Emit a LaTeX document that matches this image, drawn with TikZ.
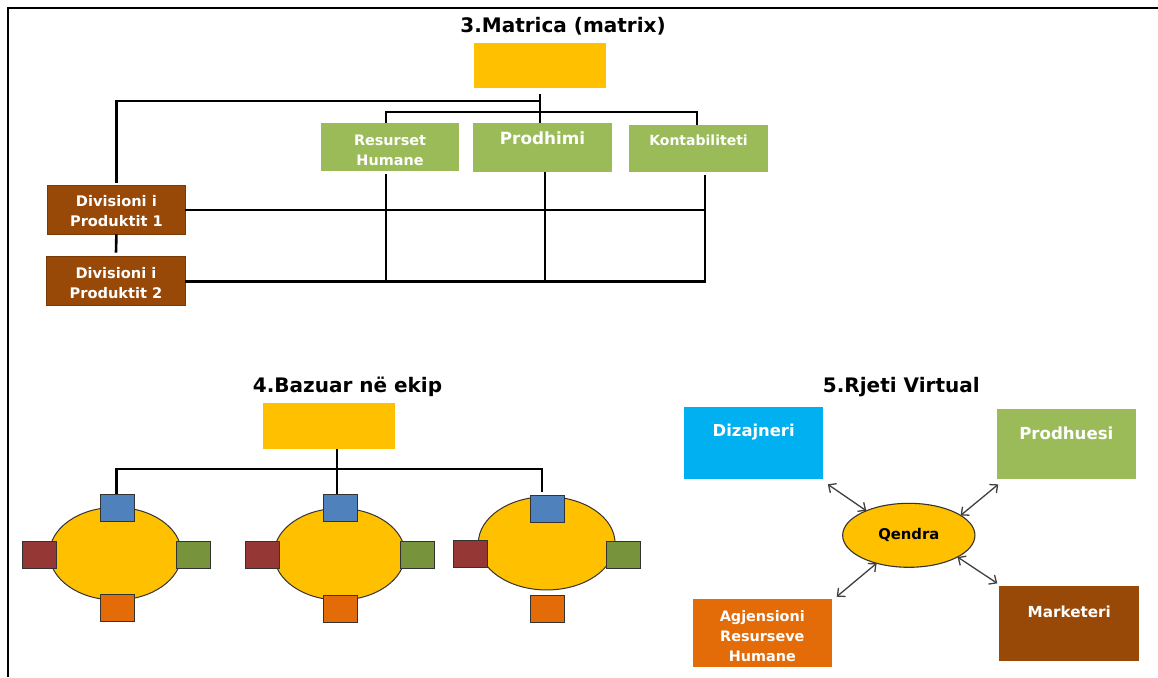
\documentclass[tikz,border=0pt]{standalone}
\usepackage{fontspec}
\setmainfont{DejaVu Sans}
\usetikzlibrary{arrows.meta,shapes.geometric}
\definecolor{gold}{HTML}{FFC000}
\definecolor{mgreen}{HTML}{9BBB59}
\definecolor{mbrown}{HTML}{984807}
\definecolor{sqblue}{HTML}{4F81BD}
\definecolor{sqred}{HTML}{953735}
\definecolor{sqgreen}{HTML}{77933C}
\definecolor{sqorange}{HTML}{E36C09}
\definecolor{skyblue}{HTML}{00B0F0}
\begin{document}
\begin{tikzpicture}[x=1pt,y=-1pt,
  every node/.style={inner sep=0pt, outer sep=0pt},
  rbox/.style={rectangle, draw=none},
  lbl/.style={text=white, align=center, font=\bfseries\fontsize{#1}{20}\selectfont},
  lbl/.default=14.5,
  heading/.style={font=\bfseries\fontsize{20}{24}\selectfont, text=black},
  wire/.style={draw=black, line width=2.6pt},
  sq/.style={rectangle, draw=black!80, line width=1pt, minimum width=34pt, minimum height=27pt},
  team/.style={ellipse, fill=gold, draw=black!80, line width=1pt},
  link/.style={draw=black!75, line width=1.3pt, {Straight Barb[length=6pt,width=11pt]}-{Straight Barb[length=6pt,width=11pt]}}
]
\useasboundingbox (0,0) rectangle (1158,677);
\fill[white] (0,0) rectangle (1158,677);
% outer frame
\draw[line width=1.6pt] (8,677) -- (8,8) -- (1158,8);

% ---------------- 3. Matrix structure ----------------
\node[heading] (t3) at (563,26) {3.Matrica (matrix)};
\node[rbox, fill=gold, minimum width=132pt, minimum height=45pt] (mtop) at (540,65.5) {};
\node[rbox, fill=mgreen, minimum width=138pt, minimum height=48pt] (res) at (390,147) {};
\node[rbox, fill=mgreen, minimum width=139pt, minimum height=49pt] (prod) at (542.5,147.5) {};
\node[rbox, fill=mgreen, minimum width=139pt, minimum height=47.5pt] (kont) at (698.5,148.25) {};
\node[rbox, fill=mbrown, draw=mbrown!80!black, line width=0.6pt, minimum width=138pt, minimum height=48.6pt] (div1) at (116.4,210) {};
\node[rbox, fill=mbrown, draw=mbrown!80!black, line width=0.6pt, minimum width=138.6pt, minimum height=49pt] (div2) at (116,281.2) {};

\node[lbl=14.4] (res-t) at (390,150) {Resurset\\Humane};
\node[lbl=16.8] (prod-t) at (542.5,138) {Prodhimi};
\node[lbl=14] (kont-t) at (698.5,140) {Kontabiliteti};
\node[lbl=14.6] (div1-t) at (116.4,211) {Divisioni i\\Produktit 1};
\node[lbl=14.6] (div2-t) at (116,283) {Divisioni i\\Produktit 2};

\coordinate (hbus) at (540,101);
\coordinate (fbus) at (386,112);
\coordinate (kdrop) at (705,0);
% head to the functions and to the divisions
\draw[wire] ([yshift=-6pt]mtop.south) -- (mtop.south |- prod.north);
\draw[wire] ([yshift=3pt]div1.north) |- (hbus);
\draw[wire] ([xshift=-4pt]res.north) -- ([xshift=-4pt]res.north |- fbus) -- ([xshift=-1.5pt]kont.north |- fbus) -- ([xshift=-1.5pt]kont.north);
% matrix grid
\draw[wire] (div1.south) -- ([yshift=4pt]div2.north);
\draw[wire] (div1.east) -- (div1.east -| kdrop);
\draw[wire] ([yshift=-3pt]kont.south -| kdrop) -- (div2.east -| kdrop) -- (div2.east);
\draw[wire] ([xshift=-4pt,yshift=-3pt]res.south) -- ([xshift=-4pt]res.south |- div2.east);
\draw[wire] ([xshift=2.5pt]prod.south) -- ([xshift=2.5pt]prod.south |- div2.east);

% ---------------- 4. Team based structure ----------------
\node[heading] (t4) at (347.5,386.7) {4.Bazuar në ekip};
\node[rbox, fill=gold, minimum width=131.7pt, minimum height=45.7pt] (ttop) at (329.2,426.2) {};

\node[team, minimum width=132pt, minimum height=92.7pt] (e1) at (115.5,553.7) {};
\node[team, minimum width=131pt, minimum height=91.7pt] (e2) at (339.5,554.2) {};
\node[team, minimum width=136.7pt, minimum height=93.3pt] (e3) at (546.7,543.3) {};

\coordinate (tbus) at (337,469);
\draw[wire] (ttop.south -| tbus) -- (tbus) -- (tbus |- 0,494);
\draw[wire] (116.7,494) |- (542,469) -- (542,492.3);

\node[sq, fill=sqblue]   (b1) at (117.3,507.5) {};
\node[sq, fill=sqred]    (r1) at (39.7,554.7) {};
\node[sq, fill=sqgreen]  (g1) at (193.7,554.5) {};
\node[sq, fill=sqorange] (o1) at (117.3,607.7) {};

\node[sq, fill=sqblue]   (b2) at (340.3,507.5) {};
\node[sq, fill=sqred]    (r2) at (262.7,554.5) {};
\node[sq, fill=sqgreen]  (g2) at (417,554.5) {};
\node[sq, fill=sqorange] (o2) at (340.3,609) {};

\node[sq, fill=sqblue]   (b3) at (547,509) {};
\node[sq, fill=sqred]    (r3) at (470.7,554.3) {};
\node[sq, fill=sqgreen]  (g3) at (623.3,554.5) {};
\node[sq, fill=sqorange] (o3) at (547,609) {};

% ---------------- 5. Virtual network ----------------
\node[heading] (t5) at (901.3,386.7) {5.Rjeti Virtual};
\node[rbox, fill=skyblue, minimum width=139.3pt, minimum height=72pt] (diz) at (753.7,443.3) {};
\node[rbox, fill=mgreen, minimum width=139.3pt, minimum height=70.7pt] (prh) at (1066.3,444) {};
\node[rbox, fill=sqorange, minimum width=139.3pt, minimum height=68pt] (agj) at (762.3,633) {};
\node[rbox, fill=mbrown, minimum width=140pt, minimum height=74.7pt] (mkt) at (1069.3,623.7) {};
\node[team, line width=1.1pt, minimum width=132.3pt, minimum height=64pt] (qen) at (908.8,535.3) {};

\node[lbl=16.4] (diz-t) at (753.7,432.5) {Dizajneri};
\node[lbl=16.6] (prh-t) at (1066.3,433.5) {Prodhuesi};
\node[lbl=14.4] (agj-t) at (762.3,635.7) {Agjensioni\\Resurseve\\Humane};
\node[lbl=15.2] (mkt-t) at (1069.3,612) {Marketeri};
\node[lbl=14.8, text=black] (qen-t) at (908.8,534.5) {Qendra};

\draw[link] ([xshift=4.4pt,yshift=-5pt]diz.south east) -- (qen.150);
\draw[link] ([xshift=1.6pt,yshift=-5pt]prh.south west) -- (qen.21);
\draw[link] ([xshift=4.7pt,yshift=2.3pt]agj.north east) -- (qen.221);
\draw[link] (qen.336) -- ([xshift=-2pt,yshift=3pt]mkt.north west);
\end{tikzpicture}
\end{document}
